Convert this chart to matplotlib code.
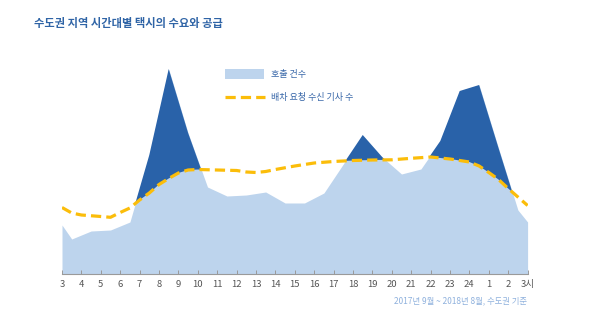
import numpy as np
import matplotlib
matplotlib.use('Agg')
import matplotlib.pyplot as plt

plt.rcParams['font.family'] = ['Noto Sans CJK KR', 'DejaVu Sans']

# 호출 건수 (calls) - vertices at half hours, hour 27 = 3시 next day
call_hours = [3, 3.5, 4.5, 5.5, 6.5, 7.5, 8.5, 9.5, 10.5, 11.5, 12.5, 13.5, 14.5,
              15.5, 16.5, 17.5, 18.5, 19.5, 20.5, 21.5, 22.5, 23.5, 24.5, 25.5, 26.5, 27]
calls = [49, 35, 43, 44, 52, 119, 205, 141, 87, 78, 79, 82, 71,
         71, 81, 110, 139, 117, 100, 105, 133, 183, 189, 126, 64, 52]

# 배차 요청 수신 기사 수 (drivers)
drv_hours = [3, 3.5, 4, 5, 5.5, 6, 6.5, 7, 7.5, 8, 8.5, 9, 9.5, 10, 11, 12, 12.5, 13,
             13.5, 14, 15, 16, 17, 18, 19, 20, 21, 22, 23, 24, 24.5, 25, 25.5, 26, 26.5, 27]
drivers = [66.5, 61, 59, 57.5, 56.7, 61.5, 66, 74, 81, 89.5, 95.5, 101, 104, 104.5, 104,
           103.5, 102, 101.5, 102.5, 104.5, 108, 111, 112.5, 113.5, 114, 114.2, 115.7,
           117, 115, 112, 108, 101.5, 94.5, 85.5, 77, 68.5]

tick_pos = list(range(3, 28))
tick_labels = [str(h) for h in range(3, 25)] + ['1', '2', '3시']

light = '#bdd4ed'
dark = '#2962a9'
yellow = '#fbbd0a'

fig = plt.figure(figsize=(6, 3.26), dpi=100)
ax = fig.add_axes([62 / 600, 52 / 326, 465.6 / 600, 220 / 326])

ax.fill_between(call_hours, 0, calls, color=light, lw=0, zorder=1)

# dark area where calls exceed drivers
grid = np.linspace(3, 27, 2401)
c = np.interp(grid, call_hours, calls)
d = np.interp(grid, drv_hours, drivers)
ax.fill_between(grid, d, c, where=c > d, interpolate=True, color=dark, lw=0, zorder=2)

ax.plot(drv_hours, drivers, color=yellow, lw=2.3, ls=(0, (3.2, 1.6)), zorder=3)

ax.set_xlim(3, 27)
ax.set_ylim(0, 220)
for s in ['top', 'right', 'left']:
    ax.spines[s].set_visible(False)
ax.spines['bottom'].set_color('#9a9a9a')
ax.spines['bottom'].set_linewidth(0.8)
ax.spines['bottom'].set_zorder(4)
ax.set_yticks([])
ax.set_xticks(tick_pos)
ax.set_xticklabels(tick_labels, fontsize=6.8, color='#555555')
ax.tick_params(axis='x', direction='in', length=3, width=0.7, color='#9a9a9a', pad=4)

# title
fig.text(34 / 600, 1 - 24 / 326, '수도권 지역 시간대별 택시의 수요와 공급',
         fontsize=8.1, fontweight='bold', color='#2f64a6', va='center', ha='left')

# legend
fig.patches.append(plt.Rectangle((225 / 600, 1 - 79 / 326), 39 / 600, 10 / 326,
                                 transform=fig.transFigure, color=light, lw=0))
fig.text(271 / 600, 1 - 74 / 326, '호출 건수', fontsize=6.5, color='#3766a8',
         va='center', ha='left')
fig.add_artist(plt.Line2D([225 / 600, 265 / 600], [1 - 97 / 326, 1 - 97 / 326],
                          transform=fig.transFigure, color=yellow, lw=2.3,
                          ls=(0, (3.2, 1.6))))
fig.text(271 / 600, 1 - 97 / 326, '배차 요청 수신 기사 수', fontsize=6.5, color='#3766a8',
         va='center', ha='left')

# footnote
fig.text(527 / 600, 1 - 301 / 326, '2017년 9월 ~ 2018년 8월, 수도권 기준',
         fontsize=6.0, color='#8fb1dd', va='center', ha='right')

fig.savefig('out.png', dpi=100)
